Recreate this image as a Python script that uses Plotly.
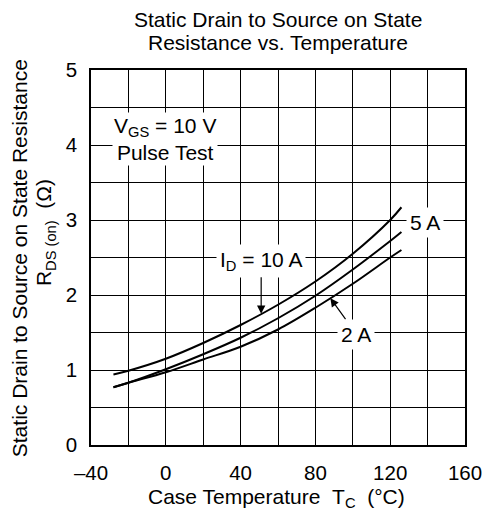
import numpy as np
import plotly.graph_objects as go

# Data
temp_c = [-28, -20, 0, 20, 40, 60, 80, 100, 120, 126]
r_10a = [0.94, 0.99, 1.15, 1.36, 1.60, 1.87, 2.18, 2.55, 3.00, 3.17]
r_5a = [0.77, 0.83, 1.01, 1.21, 1.43, 1.69, 1.99, 2.34, 2.72, 2.84]
r_2a = [0.77, 0.83, 0.97, 1.14, 1.31, 1.54, 1.83, 2.15, 2.50, 2.60]

x_ticks = [-40, -20, 0, 20, 40, 60, 80, 100, 120, 140, 160]
x_ticktext = ["\u201340", "", "0", "", "40", "", "80", "", "120", "", "160"]
y_ticks = [0, 0.5, 1, 1.5, 2, 2.5, 3, 3.5, 4, 4.5, 5]
y_ticktext = ["0", "", "1", "", "2", "", "3", "", "4", "", "5"]

FONT = "Liberation Sans, Arial, sans-serif"
W, H = 494, 511
L, R, T, B = 91, 20, 70, 66
pw, ph = W - L - R, H - T - B
FS = 21


def px_x(p):
    return (p - L) / pw


def px_y(p):
    return (H - B - p) / ph


fig = go.Figure()
for ys, name in [(r_10a, "10 A"), (r_5a, "5 A"), (r_2a, "2 A")]:
    fig.add_trace(go.Scatter(x=temp_c, y=ys, mode="lines", name=name,
                             line=dict(color="black", width=2, shape="spline", smoothing=1),
                             showlegend=False, hoverinfo="skip"))

ann = []
ann.append(dict(text="Static Drain to Source on State", xref="paper", yref="paper",
                x=0.5, y=px_y(19), xanchor="center", yanchor="middle", showarrow=False,
                font=dict(size=FS)))
ann.append(dict(text="Resistance vs. Temperature", xref="paper", yref="paper",
                x=0.5, y=px_y(42), xanchor="center", yanchor="middle", showarrow=False,
                font=dict(size=FS)))
ann.append(dict(text="Static Drain to Source on State Resistance", xref="paper", yref="paper",
                x=px_x(17.5), y=px_y(258), xanchor="center", yanchor="middle", textangle=-90,
                showarrow=False, font=dict(size=FS)))
ann.append(dict(text="R<sub>DS (on)</sub>\u00a0\u00a0(\u03a9)", xref="paper", yref="paper",
                x=px_x(44), y=px_y(233), xanchor="center", yanchor="middle", textangle=-90,
                showarrow=False, font=dict(size=FS)))
ann.append(dict(text="Case Temperature\u00a0\u00a0T<sub>C</sub>\u00a0\u00a0(\u00b0C)", xref="paper", yref="paper",
                x=px_x(281), y=px_y(498), xanchor="center", yanchor="middle",
                showarrow=False, font=dict(size=FS)))
ann.append(dict(text="V<sub>GS</sub> = 10 V<br>Pulse Test", xref="paper", yref="paper",
                x=px_x(167), y=px_y(139), xanchor="center", yanchor="middle",
                showarrow=False, bgcolor="white", borderpad=1, font=dict(size=FS)))
tip10 = 51
ann.append(dict(text="I<sub>D</sub> = 10 A", x=tip10, y=float(np.interp(tip10, temp_c, r_10a)),
                ax=0, ay=-53, showarrow=True, arrowhead=2, arrowsize=1.4, arrowwidth=1.2,
                arrowcolor="black", bgcolor="white", borderpad=3, font=dict(size=FS)))
ann.append(dict(text="5 A", xref="paper", yref="paper", x=px_x(433), y=px_y(222),
                xanchor="center", yanchor="middle", showarrow=False, bgcolor="white",
                borderpad=3, font=dict(size=FS)))
tip2 = 88
ann.append(dict(text="2 A", x=tip2, y=float(np.interp(tip2, temp_c, r_2a)),
                ax=26, ay=36, showarrow=True, arrowhead=2, arrowsize=1.4, arrowwidth=1.2,
                arrowcolor="black", bgcolor="white", borderpad=3, font=dict(size=FS)))

fig.update_layout(
    width=W, height=H,
    margin=dict(l=L, r=R, t=T, b=B),
    paper_bgcolor="white", plot_bgcolor="white",
    font=dict(family=FONT, size=FS, color="black"),
    annotations=ann,
    xaxis=dict(range=[-40, 160], tickvals=x_ticks, ticktext=x_ticktext,
               showgrid=True, gridcolor="black", gridwidth=1, zeroline=False,
               showline=True, linecolor="black", linewidth=1.5, mirror=True,
               ticks="", ticklabelstandoff=9, tickfont=dict(size=20.5)),
    yaxis=dict(range=[0, 5], tickvals=y_ticks, ticktext=y_ticktext,
               showgrid=True, gridcolor="black", gridwidth=1, zeroline=False,
               showline=True, linecolor="black", linewidth=1.5, mirror=True,
               ticks="", ticklabelstandoff=8, tickfont=dict(size=20.5)),
)

fig.write_html("out.html")
